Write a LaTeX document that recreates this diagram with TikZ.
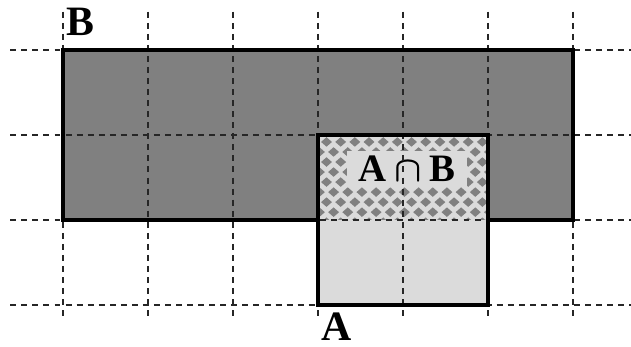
\documentclass[tikz,border=0pt]{standalone}
\usepackage{fontspec}
\usepackage{amsmath}
\usepackage{bm}
\setmainfont{Liberation Serif}
\definecolor{darkB}{RGB}{128,128,128}
\definecolor{lightA}{RGB}{219,219,219}
\tikzset{
  gridline/.style={black!85, line width=0.6pt, dash pattern=on 2pt off 1.7pt},
  border/.style={black, line width=1.1pt, line join=miter},
  lbl/.style={font=\fontsize{14}{16}\selectfont\bfseries, inner sep=1pt},
  dia/.style={darkB},
}
\begin{document}
\begin{tikzpicture}[x=1cm,y=1cm]
\useasboundingbox (-0.741,-0.494) rectangle (6.682,3.588);
% fills
\fill[darkB] (0,1) rectangle (6,3);
\fill[lightA] (3,0) rectangle (5,2);
% intersection pattern
\begin{scope}
\clip (3,1) rectangle (5,2);
\foreach \r in {0,2,4,6,8}
  \foreach \c in {-1,...,12}
    \fill[dia] ({3.1+\c*0.1667-0.064},{1.918-\r*0.118}) -- ++(0.064,0.056) -- ++(0.064,-0.056) -- ++(-0.064,-0.056) -- cycle;
\foreach \r in {-1,1,3,5,7,9}
  \foreach \c in {-1,...,12}
    \fill[dia] ({3.1833+\c*0.1667-0.064},{1.918-\r*0.118}) -- ++(0.064,0.056) -- ++(0.064,-0.056) -- ++(-0.064,-0.056) -- cycle;
\end{scope}
% intersection label (under the grid)
\node[lbl, font=\fontsize{13}{15}\selectfont\bfseries, fill=lightA, inner sep=0pt,
      minimum width=1.42cm, minimum height=0.43cm] (labAB) at (4.047,1.6) {A${}\bm{\cap}{}$B};
% grid
\foreach \y in {0,1,2,3}
  \draw[gridline] (-0.62,\y) -- (6.682,\y);
\foreach \x in {0,...,6}
  \draw[gridline] (\x,3.45) -- (\x,-0.18);
% borders
\draw[border] (3,1) -- (0,1) -- (0,3) -- (6,3) -- (6,1) -- (5,1);
\draw[border] (3,0) rectangle (5,2);
% labels
\node[lbl] (labB) at (0.21,3.33) {B};
\node[lbl] (labA) at (3.22,-0.26) {A};
\end{tikzpicture}
\end{document}
